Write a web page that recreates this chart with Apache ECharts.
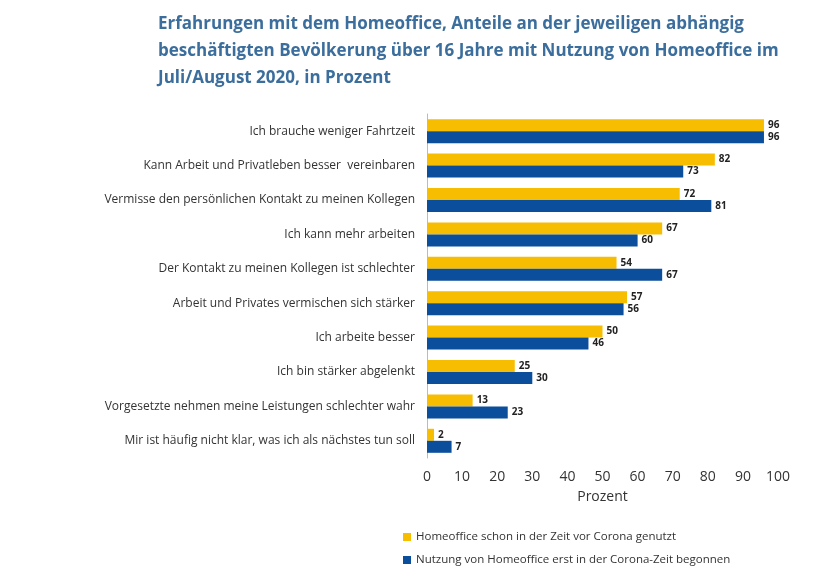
<!DOCTYPE html>
<html><head><meta charset="utf-8">
<script src="https://cdn.jsdelivr.net/npm/echarts@6/dist/echarts.min.js"></script>
<style>html,body{margin:0;padding:0;background:#fff}#c{width:820px;height:578px}</style>
</head><body><div id="c"></div>
<script>
const categories = [
  "Ich brauche weniger Fahrtzeit",
  "Kann Arbeit und Privatleben besser  vereinbaren",
  "Vermisse den persönlichen Kontakt zu meinen Kollegen",
  "Ich kann mehr arbeiten",
  "Der Kontakt zu meinen Kollegen ist schlechter",
  "Arbeit und Privates vermischen sich stärker",
  "Ich arbeite besser",
  "Ich bin stärker abgelenkt",
  "Vorgesetzte nehmen meine Leistungen schlechter wahr",
  "Mir ist häufig nicht klar, was ich als nächstes tun soll"
];
const vorCorona = [96, 82, 72, 67, 54, 57, 50, 25, 13, 2];
const seitCorona = [96, 73, 81, 60, 67, 56, 46, 30, 23, 7];
const seriesNames = ["Homeoffice schon in der Zeit vor Corona genutzt", "Nutzung von Homeoffice erst in der Corona-Zeit begonnen"];

const chart = echarts.init(document.getElementById('c'));
const lbl = {show:true, position:'right', fontSize:10, fontWeight:'bold', color:'#222', distance:4, fontFamily:'Open Sans'};
chart.setOption({
  animation:false,
  textStyle:{fontFamily:'Open Sans'},
  title:{text:'Erfahrungen mit dem Homeoffice, Anteile an der jeweiligen abhängig\nbeschäftigten Bevölkerung über 16 Jahre mit Nutzung von Homeoffice im\nJuli/August 2020, in Prozent',
    left:153, top:6, textStyle:{fontSize:17, fontWeight:'bold', color:'#3b6e9c', lineHeight:27, fontFamily:'Open Sans'}},
  legend:{orient:'vertical', left:398, top:526, itemWidth:8, itemHeight:8, itemGap:11, icon:'rect',
    textStyle:{fontSize:11.5, color:'#333'}},
  grid:{left:427, right:42, top:114, bottom:120},
  xAxis:{type:'value', min:0, max:100, interval:10, name:'Prozent', nameLocation:'middle', nameGap:32,
    nameTextStyle:{fontSize:14, color:'#333'}, axisLabel:{fontSize:14, color:'#333', margin:12},
    splitLine:{show:false}, axisLine:{show:false}, axisTick:{show:false}},
  yAxis:{type:'category', data:categories, inverse:true,
    axisLine:{show:true, lineStyle:{color:'#bbb'}}, axisTick:{show:false},
    axisLabel:{fontSize:12, color:'#333', margin:12}},
  series:[
    {name:seriesNames[0], type:'bar', data:vorCorona, barWidth:12, barGap:'0%', itemStyle:{color:'#f7bd00'}, label:lbl},
    {name:seriesNames[1], type:'bar', data:seitCorona, barWidth:12, itemStyle:{color:'#0b4e9b'}, label:lbl}
  ]
});
</script></body></html>
